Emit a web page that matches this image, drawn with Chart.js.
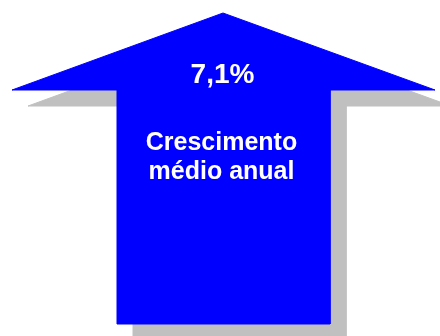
<!DOCTYPE html>
<html lang="pt">

<head>
    <meta charset="UTF-8">
    <title>Crescimento médio anual</title>
    <script src="https://cdn.jsdelivr.net/npm/chart.js"></script>
    <style>
        body { margin: 0; background: #ffffff; }
        .chart-box { width: 440px; height: 336px; }
    </style>
</head>

<body>
    <div class="chart-box">
        <canvas id="arrowChart" width="440" height="336"></canvas>
    </div>

    <script>
        // Outline of the arrow (scale units, y grows downwards)
        const arrowX = [223, 435, 330, 330, 117, 117, 12, 223];
        const arrowY = [13, 90, 90, 324, 324, 90, 90, 13];

        // shadow offset of the arrow
        const shadowShift = [16, 16];

        // texts
        const valueLabel = ['7,1%'];
        const captionLines = ['Crescimento', 'médio anual'];

        const arrowPoints = arrowX.map((x, i) => ({ x: x, y: arrowY[i] }));
        const shadowPoints = arrowX.map((x, i) => ({ x: x + shadowShift[0], y: arrowY[i] + shadowShift[1] }));

        // write the labels inside the arrow
        const arrowText = {
            id: 'arrowText',
            afterDatasetsDraw(chart) {
                const ctx = chart.ctx;
                const xs = chart.scales.x;
                const ys = chart.scales.y;
                const cx = xs.getPixelForValue(arrowX[0]) - 0.5;
                ctx.save();
                ctx.fillStyle = '#ffffff';
                ctx.textAlign = 'center';
                ctx.textBaseline = 'alphabetic';
                ctx.font = 'bold 28px "Liberation Sans", Arial, sans-serif';
                ctx.fillText(valueLabel[0], cx, ys.getPixelForValue(83));
                ctx.font = 'bold 25px "Liberation Sans", Arial, sans-serif';
                captionLines.forEach((line, i) => {
                    ctx.fillText(line, cx - 1, ys.getPixelForValue(150 + i * 29));
                });
                ctx.restore();
            }
        };

        const ctx = document.getElementById('arrowChart').getContext('2d');
        const arrowChart = new Chart(ctx, {
            type: 'scatter',
            data: {
                datasets: [
                    {
                        label: 'arrow',
                        data: arrowPoints,
                        showLine: true,
                        fill: 'shape',
                        backgroundColor: '#0000ff',
                        borderColor: '#0000ff',
                        borderWidth: 1,
                        pointRadius: 0,
                        tension: 0,
                        order: 0
                    },
                    {
                        label: 'shadow',
                        data: shadowPoints,
                        showLine: true,
                        fill: 'shape',
                        backgroundColor: '#c0c0c0',
                        borderColor: '#c0c0c0',
                        borderWidth: 1,
                        pointRadius: 0,
                        tension: 0,
                        order: 1
                    }
                ]
            },
            options: {
                responsive: false,
                animation: false,
                layout: { padding: 0 },
                plugins: {
                    legend: { display: false },
                    tooltip: { enabled: false }
                },
                scales: {
                    x: { type: 'linear', min: 0, max: 440, display: false },
                    y: { type: 'linear', min: 0, max: 336, reverse: true, display: false }
                }
            },
            plugins: [arrowText]
        });
    </script>
</body>

</html>
